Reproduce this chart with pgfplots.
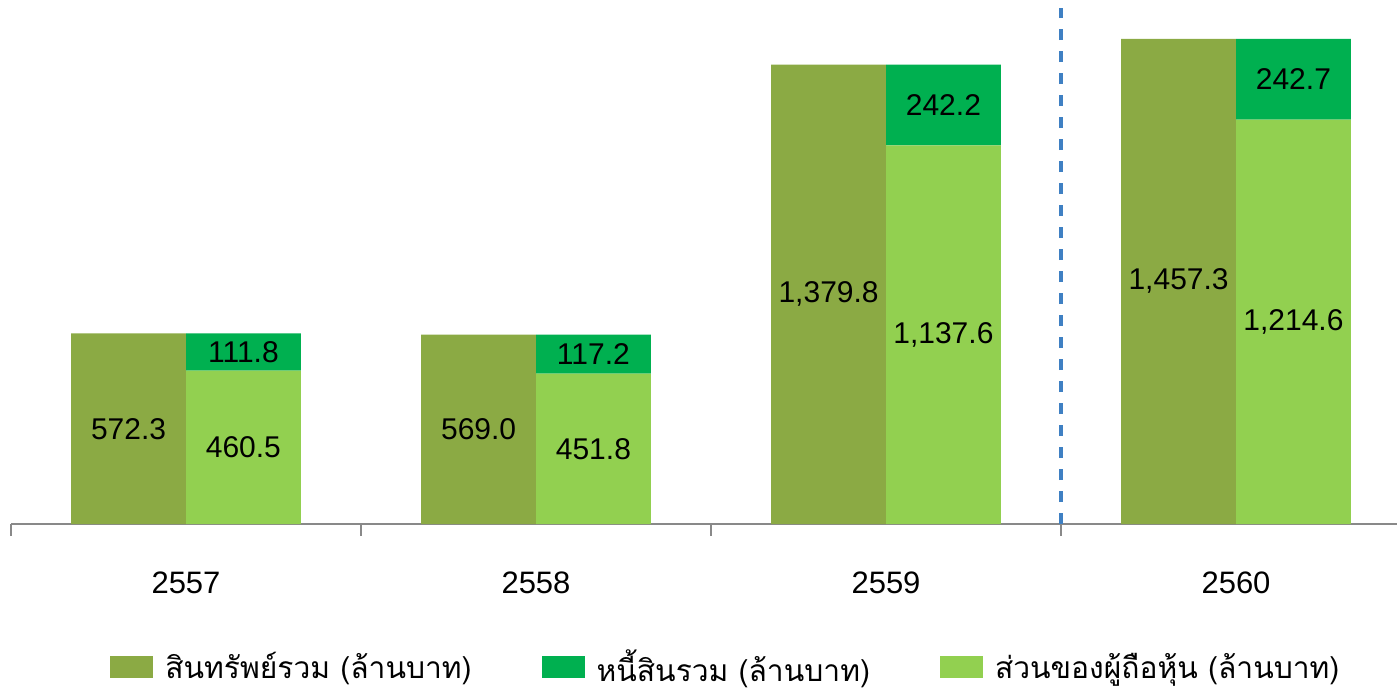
\documentclass[border=0pt]{standalone}
\usepackage{pgfplots}
\pgfplotsset{compat=1.18}
\usepackage{pgfplotstable}
\usepackage{fontspec}
\setmainfont{Liberation Sans}
\newfontfamily\thaifont[Script=Thai]{Loma}
\definecolor{cAsset}{HTML}{8BAA44}
\definecolor{cLiab}{HTML}{00B050}
\definecolor{cEq}{HTML}{92D050}
\definecolor{cAxis}{HTML}{898989}
\definecolor{cDash}{HTML}{3F80C3}

\pgfplotstableread{
x assets liab eq
0 572.3 111.8 460.5
1 569.0 117.2 451.8
2 1379.8 242.2 1137.6
3 1457.3 242.7 1214.6
}\data

\pgfplotsset{
  common/.style={
    width=693pt, height=258pt, scale only axis,
    xmin=-0.5, xmax=3.46, ymin=0, ymax=1550,
    bar width=0.328,
    /pgf/number format/.cd, fixed, fixed zerofill, precision=1, 1000 sep={,}, assume math mode=true,
    /pgfplots/.cd,
  },
  every node near coord/.append style={font=\fontsize{15}{18}\selectfont, text=black, anchor=center},
  sqlegend/.style={legend image code/.code={\fill[##1] (0pt,-5.5pt) rectangle (21.5pt,5.5pt);}},
}

\begin{document}
\begin{tikzpicture}
\begin{axis}[common, ybar,
  axis x line*=bottom, axis y line=none,
  x axis line style={cAxis, line width=1pt},
  xtick={0,1,2,3}, xticklabels={2557,2558,2559,2560},
  major tick length=0pt,
  minor xtick={-0.5,0.5,1.5,2.5}, minor tick length=6pt,
  tick align=outside, tick style={cAxis, line width=1pt},
  xticklabel style={anchor=base, yshift=-34.5pt, font=\fontsize{15.5}{18}\selectfont},
  legend columns=3,
  legend cell align=left,
  legend style={draw=none, fill=none, at={(0,0)}, anchor=west, xshift=49.5pt, yshift=-71.5pt,
    font=\thaifont\fontsize{15}{18}\selectfont, inner sep=0pt,
    /tikz/every odd column/.append style={column sep=4pt},
    /tikz/every even column/.append style={column sep=33pt}},
]
\coordinate (O) at (rel axis cs:0,0);
\addplot[sqlegend, fill=cAsset, draw=none, bar shift=-0.164, nodes near coords, point meta=explicit,
  visualization depends on={\thisrow{assets} \as \rawy},
  every node near coord/.append style={shift={(axis direction cs:0,-\rawy/2)}}]
  table[x=x, y=assets, meta=assets] {\data};
\addlegendentry{สินทรัพย์รวม (ล้านบาท)}
\addlegendimage{sqlegend, fill=cLiab, draw=none}
\addlegendentry{หนี้สินรวม (ล้านบาท)}
\addlegendimage{sqlegend, fill=cEq, draw=none}
\addlegendentry{ส่วนของผู้ถือหุ้น (ล้านบาท)}
\addplot[sharp plot, forget plot, cDash, line width=1.6pt, dash pattern=on 5.5pt off 5.5pt]
  coordinates {(2.5,0) (2.5,1550)};
\end{axis}
\begin{axis}[common, ybar stacked, hide axis]
\addplot[fill=cEq, draw=none, bar shift=0.164, nodes near coords, point meta=explicit]
  table[x=x, y=eq, meta=eq] {\data};
\addplot[fill=cLiab, draw=none, bar shift=0.164, nodes near coords, point meta=explicit]
  table[x=x, y=liab, meta=liab] {\data};
\end{axis}
\pgfresetboundingbox
\path ([shift={(-5.5pt,-84pt)}]O) rectangle ([shift={(693pt,262pt)}]O);
\end{tikzpicture}
\end{document}
